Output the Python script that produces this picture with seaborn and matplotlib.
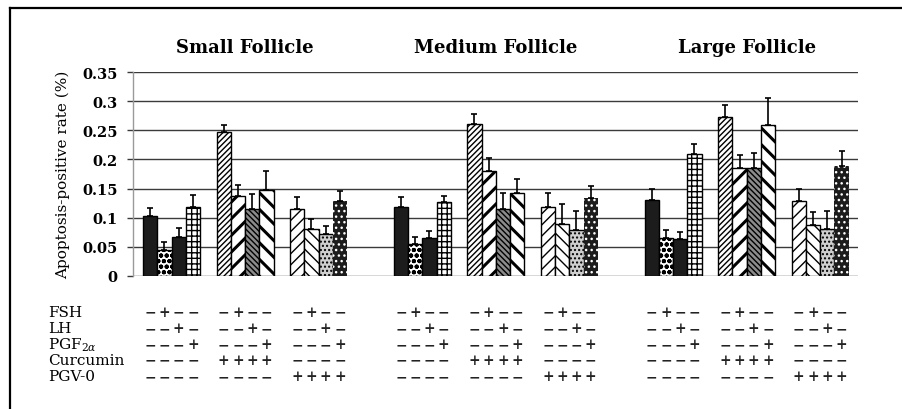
import numpy as np
import pandas as pd
import seaborn as sns
import matplotlib.pyplot as plt
from matplotlib.lines import Line2D
from matplotlib import transforms

# --- data ---------------------------------------------------------------
follicles = ['Small Follicle', 'Medium Follicle', 'Large Follicle']

small_rate = [0.103, 0.045, 0.067, 0.118, 0.247, 0.138, 0.115, 0.148, 0.115, 0.080, 0.071, 0.129]
small_err = [0.013, 0.013, 0.015, 0.021, 0.013, 0.018, 0.026, 0.033, 0.021, 0.018, 0.014, 0.016]
medium_rate = [0.119, 0.054, 0.065, 0.126, 0.261, 0.180, 0.115, 0.142, 0.119, 0.089, 0.079, 0.134]
medium_err = [0.017, 0.012, 0.012, 0.012, 0.018, 0.022, 0.027, 0.024, 0.024, 0.035, 0.032, 0.021]
large_rate = [0.130, 0.065, 0.063, 0.210, 0.273, 0.186, 0.185, 0.260, 0.129, 0.087, 0.080, 0.188]
large_err = [0.019, 0.013, 0.013, 0.017, 0.021, 0.022, 0.027, 0.046, 0.021, 0.023, 0.032, 0.027]

# treatment table, one string per sub-group of four bars (same for each follicle size)
treatment_names = ['FSH', 'LH', r'PGF$_{2\alpha}$', 'Curcumin', 'PGV-0']
treatment_signs = [
    ['-+--', '-+--', '-+--'],
    ['--+-', '--+-', '--+-'],
    ['---+', '---+', '---+'],
    ['----', '++++', '----'],
    ['----', '----', '++++'],
]

ytick_values = [0, 0.05, 0.1, 0.15, 0.2, 0.25, 0.3, 0.35]
ytick_labels = ['0', '0.05', '0.1', '0.15', '0.2', '0.25', '0.3', '0.35']

# --- layout ---------------------------------------------------------------
FOLLICLE_STEP = 17.6
SUB_STEP = 5.16

rates = [small_rate, medium_rate, large_rate]
errs = [small_err, medium_err, large_err]
rows = []
for f, name in enumerate(follicles):
    for i, (r, e) in enumerate(zip(rates[f], errs[f])):
        sub, k = divmod(i, 4)
        rows.append({'follicle': name, 'sub': sub, 'bar': k,
                     'pos': f * FOLLICLE_STEP + sub * SUB_STEP + k,
                     'rate': r, 'err': e})
df = pd.DataFrame(rows)

# bar fills per position inside one follicle group
bar_styles = [
    dict(fc='#1c1c1c', hatch=None, ec='black'),
    dict(fc='white', hatch='ooo', ec='black', hlw=1.4),
    dict(fc='#1c1c1c', hatch=None, ec='black'),
    dict(fc='white', hatch='+++', ec='black'),
    dict(fc='white', hatch='//////', ec='black'),
    dict(fc='white', hatch='//', ec='black', hlw=2.2),
    dict(fc='#8c8c8c', hatch='\\\\\\\\\\\\', ec='black'),
    dict(fc='white', hatch='\\\\', ec='black', hlw=2.2),
    dict(fc='white', hatch='///', ec='black'),
    dict(fc='white', hatch='\\\\\\', ec='black'),
    dict(fc='#cfcfcf', hatch='....', ec='black'),
    dict(fc='#1c1c1c', hatch='...', ec='white', lw=0, hlw=1.0),
]

plt.rcParams['mathtext.fontset'] = 'dejavuserif'
plt.rcParams['hatch.linewidth'] = 1.0
serif = ['DejaVu Serif']

fig = plt.figure(figsize=(9.02, 4.10), dpi=100)
ax = fig.add_axes([0.1475, 0.3251, 0.8038, 0.4961])

sns.barplot(data=df, x='pos', y='rate', native_scale=True, width=1.0,
            errorbar=None, color='white', edgecolor='black', linewidth=1.0, ax=ax)

for i, patch in enumerate(ax.patches):
    st = bar_styles[i % 12]
    patch.set_facecolor(st['fc'])
    patch.set_edgecolor(st['ec'])
    patch.set_linewidth(st.get('lw', 1.0))
    if st['hatch']:
        patch.set_hatch(st['hatch'])
        if hasattr(patch, 'set_hatch_linewidth'):
            patch.set_hatch_linewidth(st.get('hlw', 1.0))
    patch.set_zorder(3)

ax.errorbar(df['pos'], df['rate'], yerr=[np.zeros(len(df)), df['err']],
            fmt='none', ecolor='black', elinewidth=1.2, capsize=2.5, capthick=1.2, zorder=4)

ax.set_xlim(-1.2, 49.68)
ax.set_ylim(0, 0.35)
ax.set_yticks(ytick_values)
ax.set_yticklabels(ytick_labels, fontsize=10.5, fontweight='bold', family=serif)
ax.set_xticks([])
ax.set_xlabel('')
ax.yaxis.grid(True, color='#3a3a3a', linewidth=1.0, zorder=0)
ax.set_axisbelow(True)
ax.tick_params(axis='y', length=4, width=1.0, color='#3a3a3a', pad=7, direction='out')
for side in ['top', 'right', 'bottom']:
    ax.spines[side].set_visible(False)
ax.spines['left'].set_color('#9a9a9a')
ax.spines['left'].set_linewidth(1.0)

ax.set_ylabel('Apoptosis-positive rate (%)', fontsize=11, family=serif)
ax.yaxis.set_label_coords(-0.087, 0.5)

# follicle titles centred on each group of bars
trans = transforms.blended_transform_factory(ax.transData, ax.transAxes)
for f, name in enumerate(follicles):
    sub = df[df['follicle'] == name]
    centre = (sub['pos'].min() + sub['pos'].max()) / 2
    ax.text(centre, 1.124, name, transform=trans, ha='center', va='center',
            fontsize=13, fontweight='bold', family=serif)

# treatment table under the bars
row_y = [-0.176, -0.258, -0.338, -0.414, -0.494]
label_trans = transforms.blended_transform_factory(fig.transFigure, ax.transAxes)
for r, name in enumerate(treatment_names):
    ax.text(0.053, row_y[r], name, transform=label_trans,
            ha='left', va='center', fontsize=11, family=serif)
    for _, row in df.iterrows():
        sign = treatment_signs[r][row['sub']][row['bar']]
        ax.text(row['pos'], row_y[r], '+' if sign == '+' else '\u2212', transform=trans,
                ha='center', va='center', fontsize=10, fontweight='bold', family=serif,
                color='#222222', clip_on=False)

# partial frame of the scanned figure
fig.add_artist(Line2D([10 / 902, 1.0], [1 - 9 / 410, 1 - 9 / 410], color='black', linewidth=1.6,
                      transform=fig.transFigure))
fig.add_artist(Line2D([10 / 902, 10 / 902], [0.0, 1 - 9 / 410], color='black', linewidth=1.6,
                      transform=fig.transFigure))

fig.savefig('out.png', dpi=100, facecolor='white')
